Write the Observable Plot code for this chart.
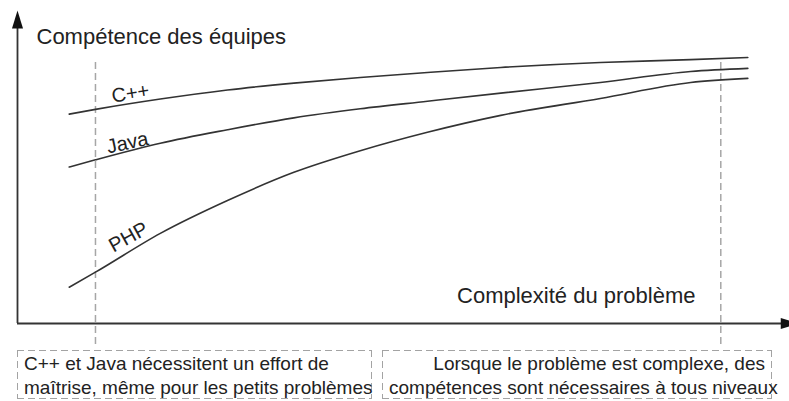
<!DOCTYPE html>
<html>
<head>
<meta charset="utf-8">
<script src="https://cdn.jsdelivr.net/npm/d3@7"></script>
<script src="https://cdn.jsdelivr.net/npm/@observablehq/plot@0.6"></script>
<style>
  html, body { margin: 0; padding: 0; background: #fff; overflow: hidden; }
  #wrap { position: relative; width: 789px; height: 401px; font-family: "Liberation Sans", Arial, sans-serif; }
  .note {
    position: absolute; top: 350px; height: 49px; box-sizing: border-box;
    font-size: 19px; line-height: 24px; color: #222; white-space: pre;
    padding: 2px 7px 0 7px;
    background:
      repeating-linear-gradient(90deg, #a3a3a3 0 7px, transparent 7px 11px) top left / 100% 1px no-repeat,
      repeating-linear-gradient(90deg, #a3a3a3 0 7px, transparent 7px 11px) bottom left / 100% 1px no-repeat,
      repeating-linear-gradient(180deg, #a3a3a3 0 7px, transparent 7px 11px) top left / 1px 100% no-repeat,
      repeating-linear-gradient(180deg, #a3a3a3 0 7px, transparent 7px 11px) top right / 1px 100% no-repeat;
  }
  #note0 { left: 17px; width: 355px; text-align: left; }
  #note1 { left: 382px; width: 390px; text-align: right; }
</style>
</head>
<body>
<div id="wrap"></div>
<script>
// ---- data ----
const complexity = [6.7, 10.1, 18.5, 27.2, 35.8, 44.4, 53.1, 62.6, 75.5, 87.2, 94.6];
const languages = ["C++", "Java", "PHP"];
const cppValues  = [66.9, 68.4, 71.7, 74.6, 76.8, 78.6, 80.2, 81.8, 83.4, 84.3, 85.0];
const javaValues = [50.0, 52.3, 57.6, 61.9, 65.7, 68.6, 71.0, 73.6, 77.0, 80.5, 81.5];
const phpValues  = [11.6, 16.4, 28.8, 39.3, 48.3, 55.2, 61.1, 66.5, 71.9, 77.0, 78.3];
const markerLines = [10.1, 91.1];
const xTitle = "Complexité du problème";
const yTitle = "Compétence des équipes";
const notes = [
  "C++ et Java nécessitent un effort de\nmaîtrise, même pour les petits problèmes",
  "Lorsque le problème est complexe, des\ncompétences sont nécessaires à tous niveaux"
];

// ---- build table ----
const seriesValues = [cppValues, javaValues, phpValues];
const rows = languages.flatMap((name, i) =>
  complexity.map((x, j) => ({name, x, y: seriesValues[i][j]})));
const labelRows = languages.map((name, i) => ({name, x: complexity[1], y: seriesValues[i][1]}));

// ---- styles ----
const ink = "#333";
const labelStyle = {
  "C++":  {rotate: -9,  dx: 35, dy: -16},
  "Java": {rotate: -12, dx: 32, dy: -17},
  "PHP":  {rotate: -29, dx: 33, dy: -35}
};
const arrowUp = {draw(ctx) { ctx.moveTo(0, 0); ctx.lineTo(5.5, 18); ctx.lineTo(-5.5, 18); ctx.closePath(); }};
const arrowRight = {draw(ctx) { ctx.moveTo(0, 0); ctx.lineTo(-18, -5.5); ctx.lineTo(-18, 5.5); ctx.closePath(); }};

const chart = Plot.plot({
  width: 789,
  height: 350,
  marginLeft: 17,
  marginRight: 0,
  marginTop: 10,
  marginBottom: 27,
  x: {domain: [0, 100], axis: null},
  y: {domain: [0, 100], axis: null},
  style: {fontFamily: "'Liberation Sans', Arial, sans-serif", color: "#222", background: "white"},
  marks: [
    Plot.ruleX(markerLines, {y1: 83.4, y2: -7.7, stroke: "#a6a6a6", strokeWidth: 1.5, strokeDasharray: "7,4"}),
    Plot.ruleX([0], {y1: 0, y2: 96, stroke: ink, strokeWidth: 1.8}),
    Plot.ruleY([0], {x1: 0, x2: 100, stroke: ink, strokeWidth: 1.8}),
    Plot.dot([{x: 0, y: 100}], {x: "x", y: "y", symbol: arrowUp, fill: "#111", stroke: "none"}),
    Plot.dot([{x: 101.2, y: 0}], {x: "x", y: "y", symbol: arrowRight, fill: "#111", stroke: "none"}),
    Plot.line(rows, {x: "x", y: "y", z: "name", curve: "monotone-x", stroke: ink, strokeWidth: 1.6}),
    ...languages.map(name => Plot.text(labelRows.filter(d => d.name === name), {
      x: "x", y: "y", text: "name", fontSize: 20, fill: "#222",
      textAnchor: "middle", lineAnchor: "middle",
      rotate: labelStyle[name].rotate, dx: labelStyle[name].dx, dy: labelStyle[name].dy
    })),
    Plot.text([yTitle], {frameAnchor: "top-left", dx: 19, dy: 33, textAnchor: "start", lineAnchor: "bottom", fontSize: 22, fill: "#222"}),
    Plot.text([xTitle], {frameAnchor: "bottom-right", dx: -94, dy: -21, textAnchor: "end", lineAnchor: "bottom", fontSize: 22, fill: "#222"})
  ]
});

const wrap = document.getElementById("wrap");
wrap.appendChild(chart);
notes.forEach((t, i) => {
  const d = document.createElement("div");
  d.className = "note";
  d.id = "note" + i;
  d.textContent = t;
  wrap.appendChild(d);
});
</script>
</body>
</html>
